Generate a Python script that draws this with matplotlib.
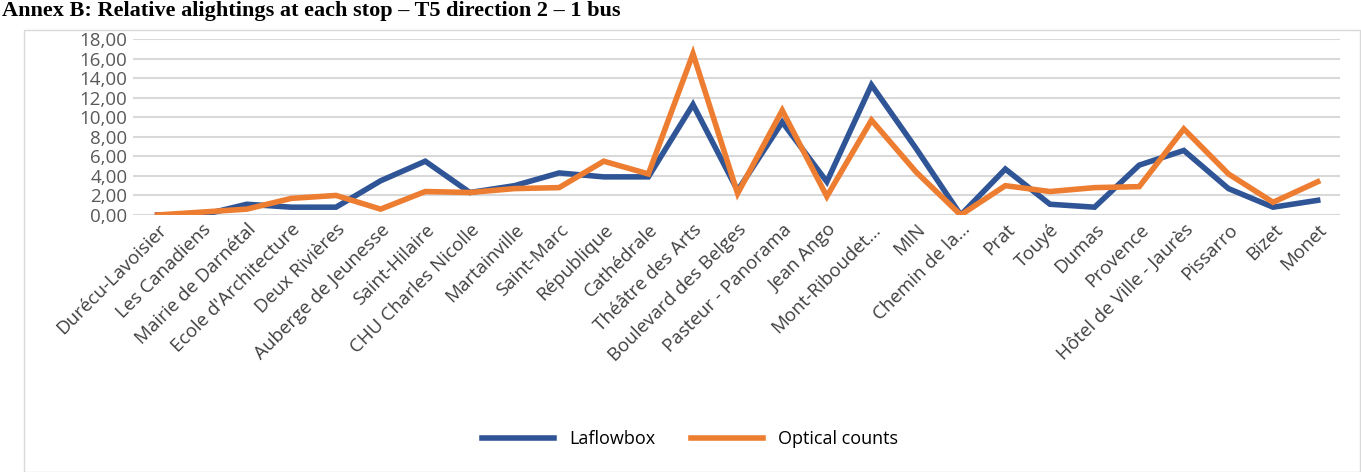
import matplotlib
matplotlib.use("Agg")
import matplotlib.pyplot as plt
from matplotlib.patches import Rectangle

stops = ["Durécu-Lavoisier","Les Canadiens","Mairie de Darnétal","Ecole d'Architecture","Deux Rivières",
         "Auberge de Jeunesse","Saint-Hilaire","CHU Charles Nicolle","Martainville","Saint-Marc",
         "République","Cathédrale","Théâtre des Arts","Boulevard des Belges","Pasteur - Panorama",
         "Jean Ango","Mont-Riboudet…","MIN","Chemin de la…","Prat","Touyé","Dumas","Provence",
         "Hôtel de Ville - Jaurès","Pissarro","Bizet","Monet"]
laflowbox = [0,0,1.1,0.8,0.8,3.5,5.5,2.3,3.0,4.3,3.9,3.9,11.3,2.5,9.5,3.4,13.3,6.8,0,4.7,1.1,0.8,5.1,6.6,2.7,0.8,1.5]
optical = [0,0.3,0.6,1.7,2.0,0.6,2.4,2.3,2.7,2.8,5.5,4.2,16.5,2.2,10.7,1.9,9.7,4.4,0,3.0,2.4,2.8,2.9,8.8,4.2,1.3,3.4]

W,H = 1361,472
fig = plt.figure(figsize=(W/100,H/100), dpi=100)
fig.patches.append(Rectangle((24/W,0),1-25/W,(H-30)/H, transform=fig.transFigure,
                             fill=False, edgecolor="#d9d9d9", lw=1))
fig.text(2/W, 1-1/H, "Annex B: Relative alightings at each stop – T5 direction 2 – 1 bus",
         family="Liberation Serif", weight="bold", fontsize=16, va="top", ha="left")
ax = fig.add_axes([133/W, 1-215/H, (1340-133)/W, (215-39)/H])
x = range(len(stops))
ax.plot(x, laflowbox, color="#2f5597", lw=4, label="Laflowbox", solid_joinstyle="miter")
ax.plot(x, optical, color="#ed7d31", lw=4, label="Optical counts", solid_joinstyle="miter")
ax.set_ylim(0,18)
ax.set_xlim(-0.55, len(stops)-0.5)
ax.set_yticks(range(0,19,2))
ax.set_yticklabels([f"{v},00" for v in range(0,19,2)], color="#595959", fontsize=13.5, family="Open Sans")
ax.set_xticks(list(x))
ax.set_xticklabels(stops, rotation=45, ha="right", rotation_mode="anchor", color="#404040", fontsize=13.5, family="Open Sans")
ax.tick_params(length=0, pad=4)
ax.grid(axis="y", color="#d9d9d9", lw=1.5)
ax.set_axisbelow(True)
for s in ax.spines.values(): s.set_visible(False)
fig.legend(loc="center", bbox_to_anchor=(690/W, 1-439/H), ncol=2, frameon=False,
           prop={"family":"Open Sans","size":13}, handlelength=4, columnspacing=2)
fig.savefig("out.png", dpi=100)
